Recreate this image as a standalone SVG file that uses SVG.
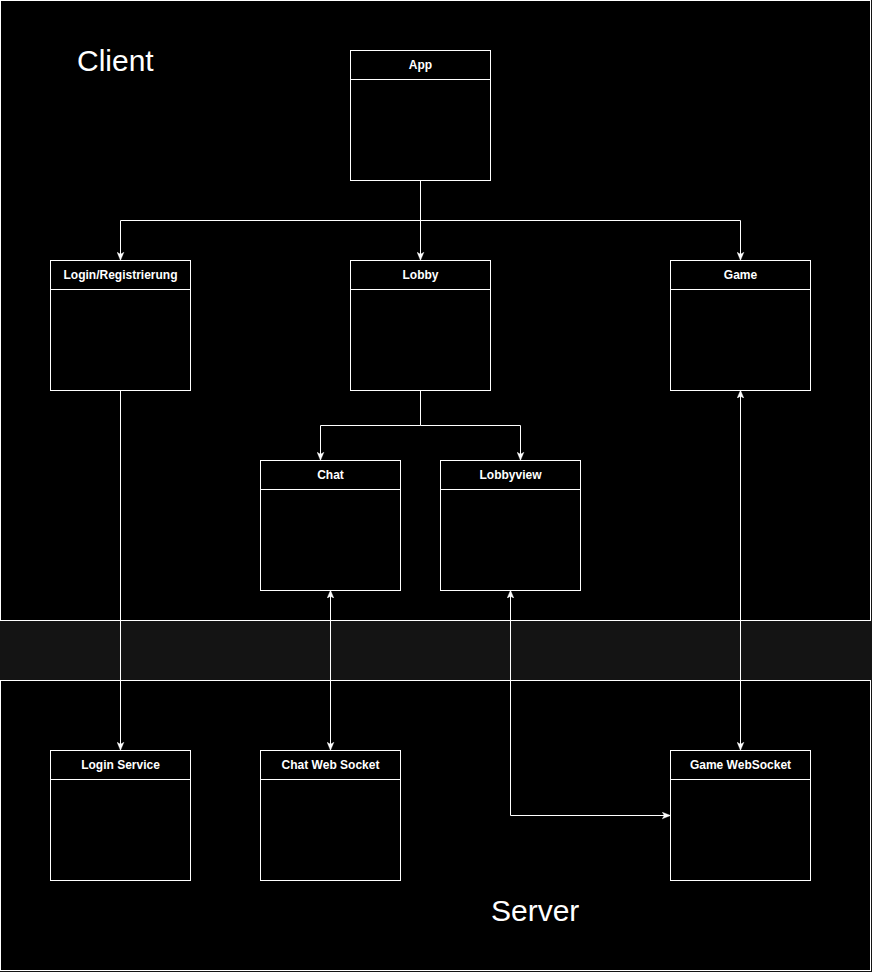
<svg xmlns="http://www.w3.org/2000/svg" width="872" height="972" viewBox="0 0 872 972">
<style>
.container{fill:#000000;stroke:#ffffff;stroke-width:1}
.box{fill:#000000;stroke:#ffffff;stroke-width:1}
.sep{stroke:#ffffff;stroke-width:1;fill:none}
.title{font-family:"Liberation Sans",Arial,sans-serif;font-size:12px;font-weight:bold;fill:#ffffff;text-anchor:middle}
.big{font-family:"Liberation Sans",Arial,sans-serif;font-size:30px;fill:#ffffff}
.edge{fill:none;stroke:#ffffff;stroke-width:1}
</style>
<defs>
<marker id="arr" viewBox="0 0 10 10" refX="9" refY="5" markerWidth="8" markerHeight="8" markerUnits="userSpaceOnUse" orient="auto-start-reverse">
<path d="M0,0.8 L10,5 L0,9.2 L2.5,5 Z" fill="#ffffff" stroke="#ffffff" stroke-width="0.5"/>
</marker>
</defs>
<rect x="0" y="0" width="872" height="972" fill="#141414"/>
<g id="client">
<rect class="container" x="0.5" y="0.5" width="870" height="620"/>
<text class="big" x="77" y="71">Client</text>
</g>
<g id="server">
<rect class="container" x="0.5" y="680.5" width="870" height="290"/>
<text class="big" x="491" y="921">Server</text>
</g>
<g id="connectors">
<path class="edge" d="M420.5,180.5 V259.5" marker-end="url(#arr)"/>
<path class="edge" d="M420.5,220.5 H120.5 V259.5" marker-end="url(#arr)"/>
<path class="edge" d="M420.5,220.5 H740.5 V259.5" marker-end="url(#arr)"/>
<path class="edge" d="M420.5,390.5 V425.5 H320.5 V459.5" marker-end="url(#arr)"/>
<path class="edge" d="M420.5,425.5 H520.5 V459.5" marker-end="url(#arr)"/>
<path class="edge" d="M120.5,390.5 V749.5" marker-end="url(#arr)"/>
<path class="edge" d="M330.5,591 V749.5" marker-start="url(#arr)" marker-end="url(#arr)"/>
<path class="edge" d="M510.5,591 V815.5 H669.5" marker-start="url(#arr)" marker-end="url(#arr)"/>
<path class="edge" d="M740.5,391 V749.5" marker-start="url(#arr)" marker-end="url(#arr)"/>
</g>
<g id="app">
<rect class="box" x="350.5" y="50.5" width="140" height="130"/>
<path class="sep" d="M350.5,79.5 H490.5"/>
<text class="title" x="420.5" y="69">App</text>
</g>
<g id="login">
<rect class="box" x="50.5" y="260.5" width="140" height="130"/>
<path class="sep" d="M50.5,289.5 H190.5"/>
<text class="title" x="120.5" y="279">Login/Registrierung</text>
</g>
<g id="lobby">
<rect class="box" x="350.5" y="260.5" width="140" height="130"/>
<path class="sep" d="M350.5,289.5 H490.5"/>
<text class="title" x="420.5" y="279">Lobby</text>
</g>
<g id="game">
<rect class="box" x="670.5" y="260.5" width="140" height="130"/>
<path class="sep" d="M670.5,289.5 H810.5"/>
<text class="title" x="740.5" y="279">Game</text>
</g>
<g id="chat">
<rect class="box" x="260.5" y="460.5" width="140" height="130"/>
<path class="sep" d="M260.5,489.5 H400.5"/>
<text class="title" x="330.5" y="479">Chat</text>
</g>
<g id="lobbyview">
<rect class="box" x="440.5" y="460.5" width="140" height="130"/>
<path class="sep" d="M440.5,489.5 H580.5"/>
<text class="title" x="510.5" y="479">Lobbyview</text>
</g>
<g id="loginservice">
<rect class="box" x="50.5" y="750.5" width="140" height="130"/>
<path class="sep" d="M50.5,779.5 H190.5"/>
<text class="title" x="120.5" y="769">Login Service</text>
</g>
<g id="chatwebsocket">
<rect class="box" x="260.5" y="750.5" width="140" height="130"/>
<path class="sep" d="M260.5,779.5 H400.5"/>
<text class="title" x="330.5" y="769">Chat Web Socket</text>
</g>
<g id="gamewebsocket">
<rect class="box" x="670.5" y="750.5" width="140" height="130"/>
<path class="sep" d="M670.5,779.5 H810.5"/>
<text class="title" x="740.5" y="769">Game WebSocket</text>
</g>
</svg>
